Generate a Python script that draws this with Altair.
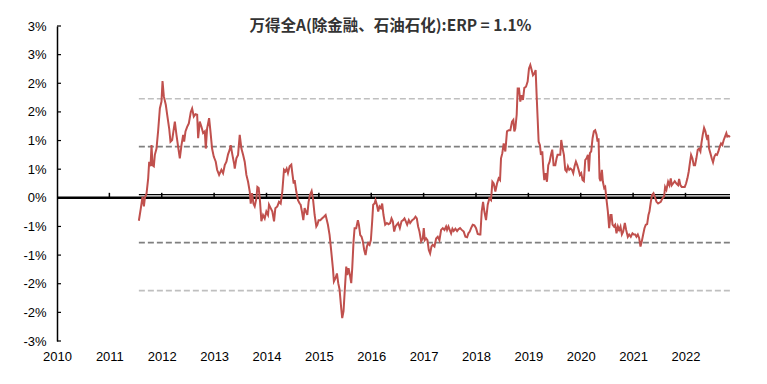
import altair as alt
import pandas as pd

# ---- data ----
years = [
    2011.563, 2011.601, 2011.633, 2011.659, 2011.678, 2011.710, 2011.741, 2011.760, 2011.786, 2011.805,
    2011.824, 2011.849, 2011.868, 2011.900, 2011.932, 2011.964, 2011.995, 2012.015, 2012.040, 2012.078,
    2012.104, 2012.142, 2012.167, 2012.199, 2012.250, 2012.281, 2012.313, 2012.345, 2012.377, 2012.409,
    2012.428, 2012.453, 2012.485, 2012.517, 2012.555, 2012.580, 2012.612, 2012.644, 2012.676, 2012.695,
    2012.726, 2012.758, 2012.790, 2012.822, 2012.841, 2012.866, 2012.904, 2012.930, 2012.961, 2012.993,
    2013.031, 2013.057, 2013.095, 2013.139, 2013.171, 2013.203, 2013.235, 2013.266, 2013.298, 2013.317,
    2013.349, 2013.381,
    2013.394, 2013.425, 2013.457, 2013.489, 2013.521, 2013.553, 2013.584, 2013.616, 2013.648, 2013.680,
    2013.699, 2013.724, 2013.750, 2013.775, 2013.807, 2013.826, 2013.851, 2013.877, 2013.902, 2013.934,
    2013.966, 2013.997, 2014.029, 2014.048, 2014.080, 2014.112, 2014.144, 2014.169, 2014.207, 2014.239,
    2014.271, 2014.302, 2014.334, 2014.360, 2014.385, 2014.410, 2014.442, 2014.474, 2014.493, 2014.519,
    2014.538, 2014.569, 2014.601, 2014.633, 2014.652, 2014.677, 2014.703, 2014.728, 2014.754, 2014.779,
    2014.804, 2014.830, 2014.862, 2014.887, 2014.919, 2014.951, 2014.970, 2014.995, 2015.027, 2015.059,
    2015.097, 2015.129, 2015.173, 2015.205, 2015.237, 2015.268, 2015.287, 2015.319, 2015.345, 2015.370,
    2015.395, 2015.427, 2015.446, 2015.471,
    2015.497, 2015.523, 2015.542, 2015.567, 2015.593, 2015.618, 2015.637, 2015.662, 2015.682, 2015.713,
    2015.745, 2015.764, 2015.790, 2015.815, 2015.840, 2015.866, 2015.891, 2015.917, 2015.942, 2015.968,
    2015.993, 2016.018, 2016.037, 2016.063, 2016.082, 2016.107, 2016.133, 2016.158, 2016.184, 2016.209,
    2016.234, 2016.266, 2016.298, 2016.330, 2016.362, 2016.387, 2016.412, 2016.438, 2016.463, 2016.489,
    2016.514, 2016.546, 2016.578, 2016.609, 2016.635, 2016.660, 2016.686, 2016.717, 2016.743, 2016.781,
    2016.813, 2016.845, 2016.870, 2016.895, 2016.921, 2016.953, 2016.984, 2017.003, 2017.022, 2017.048,
    2017.073, 2017.099, 2017.124, 2017.150, 2017.175, 2017.207, 2017.239, 2017.270, 2017.302, 2017.334,
    2017.366, 2017.397,
    2017.429, 2017.448, 2017.474, 2017.499, 2017.525, 2017.550, 2017.575, 2017.607, 2017.639, 2017.664,
    2017.696, 2017.728, 2017.766, 2017.798, 2017.830, 2017.855, 2017.881, 2017.906, 2017.938, 2017.969,
    2018.001, 2018.033, 2018.065, 2018.084, 2018.109, 2018.135, 2018.160, 2018.192, 2018.224, 2018.255,
    2018.287, 2018.313, 2018.338, 2018.370, 2018.402, 2018.433, 2018.459, 2018.478, 2018.503, 2018.529,
    2018.560, 2018.592, 2018.624, 2018.656, 2018.688, 2018.713, 2018.732, 2018.751, 2018.777, 2018.796,
    2018.821, 2018.846, 2018.872, 2018.897, 2018.923, 2018.955, 2018.986, 2019.012, 2019.037, 2019.063,
    2019.088, 2019.113, 2019.139, 2019.158, 2019.177, 2019.196, 2019.221, 2019.240, 2019.266, 2019.285,
    2019.304, 2019.329, 2019.355, 2019.380, 2019.406, 2019.431, 2019.456, 2019.482,
    2019.514, 2019.539, 2019.558, 2019.590, 2019.609, 2019.628, 2019.654, 2019.679, 2019.704, 2019.730,
    2019.755, 2019.781, 2019.806, 2019.832, 2019.857, 2019.882, 2019.908, 2019.933, 2019.959, 2019.984,
    2020.009, 2020.035, 2020.060, 2020.086, 2020.111, 2020.137, 2020.156, 2020.175, 2020.200, 2020.226,
    2020.251, 2020.276, 2020.302, 2020.321, 2020.340, 2020.359, 2020.378, 2020.404, 2020.423, 2020.448,
    2020.467, 2020.493, 2020.518, 2020.543, 2020.569, 2020.588, 2020.607, 2020.632, 2020.658, 2020.683,
    2020.709, 2020.734, 2020.759, 2020.785, 2020.810, 2020.842, 2020.867, 2020.899, 2020.925, 2020.956,
    2020.988, 2021.014, 2021.039, 2021.064, 2021.090, 2021.115, 2021.141, 2021.166, 2021.192, 2021.217,
    2021.242, 2021.268, 2021.293, 2021.312, 2021.338, 2021.363, 2021.389, 2021.414, 2021.446, 2021.477,
    2021.528, 2021.560, 2021.592, 2021.611, 2021.636, 2021.668, 2021.694, 2021.719, 2021.738, 2021.764,
    2021.795, 2021.827, 2021.859, 2021.878, 2021.903, 2021.929, 2021.961, 2021.986, 2022.011, 2022.037,
    2022.062, 2022.088, 2022.107, 2022.132, 2022.158, 2022.183, 2022.208, 2022.234, 2022.259, 2022.285,
    2022.304, 2022.329, 2022.355, 2022.380, 2022.399, 2022.418, 2022.431, 2022.450, 2022.475, 2022.501,
    2022.526, 2022.552, 2022.577, 2022.602, 2022.628, 2022.653, 2022.679, 2022.704, 2022.730, 2022.755,
    2022.780, 2022.799, 2022.825, 2022.850,
]

erp = [
    -0.40, -0.18, 0.02, -0.15, 0.00, 0.08, 0.34, 0.63, 0.55, 0.92,
    0.57, 0.55, 0.75, 0.86, 1.18, 1.56, 1.68, 2.04, 1.77, 1.62,
    1.45, 1.21, 0.98, 1.01, 1.33, 1.10, 0.89, 0.69, 0.92, 1.10,
    0.98, 1.16, 1.24, 1.30, 1.50, 1.56, 1.42, 1.46, 1.45, 1.04,
    1.33, 1.24, 1.13, 1.16, 0.86, 1.21, 1.39, 1.16, 0.86, 0.72,
    0.63, 0.49, 0.40, 0.49, 0.43, 0.57, 0.63, 0.76, 0.84, 0.92,
    0.75, 0.60,
    0.51, 0.69, 0.75, 1.10, 0.86, 0.75, 0.63, 0.40, 0.28, 0.11,
    -0.10, 0.08, -0.10, -0.15, -0.01, 0.19, 0.17, -0.07, -0.41, -0.30,
    -0.36, -0.24, -0.30, -0.12, -0.18, -0.24, -0.41, -0.18, -0.15, -0.07,
    -0.10, 0.11, 0.49, 0.46, 0.51, 0.43, 0.55, 0.58, 0.43, 0.25,
    0.31, 0.11, -0.04, -0.10, -0.12, -0.24, -0.39, -0.18, -0.24, -0.30,
    -0.07, 0.05, 0.12, -0.01, -0.30, -0.50, -0.47, -0.39, -0.39, -0.36,
    -0.33, -0.30, -0.47, -0.65, -0.94, -1.23, -1.46, -1.40, -1.32, -1.49,
    -1.60, -1.93, -2.10, -1.98,
    -1.58, -1.20, -1.35, -1.23, -1.35, -1.49, -1.23, -0.76, -0.53, -0.53,
    -0.39, -0.47, -0.65, -0.68, -0.76, -0.91, -1.00, -0.85, -0.79, -0.82,
    -0.74, -0.41, -0.12, -0.10, -0.04, -0.12, -0.24, -0.15, -0.18, -0.10,
    -0.30, -0.47, -0.44, -0.46, -0.44, -0.36, -0.41, -0.59, -0.50, -0.47,
    -0.44, -0.53, -0.41, -0.39, -0.36, -0.41, -0.47, -0.39, -0.44, -0.39,
    -0.37, -0.33, -0.36, -0.50, -0.59, -0.76, -0.71, -0.53, -0.74, -0.71,
    -0.74, -0.91, -0.97, -0.85, -0.82, -0.85, -0.71, -0.68, -0.74, -0.56,
    -0.53, -0.56,
    -0.50, -0.56, -0.50, -0.56, -0.62, -0.54, -0.58, -0.54, -0.58, -0.55,
    -0.53, -0.56, -0.59, -0.68, -0.69, -0.62, -0.59, -0.53, -0.47, -0.48,
    -0.53, -0.63, -0.64, -0.64, -0.24, -0.07, -0.24, -0.39, -0.12, -0.01,
    -0.04, 0.28, 0.25, 0.11, 0.25, 0.34, 0.31, 0.69, 0.78, 0.95,
    0.81, 1.16, 1.18, 1.18, 1.33, 1.36, 1.16, 1.21, 1.45, 1.91,
    1.91, 1.68, 1.79, 1.71, 1.92, 1.94, 2.03, 2.26, 2.32, 2.23,
    2.14, 2.17, 2.23, 1.79, 1.39, 0.98, 0.92, 0.75, 0.81, 0.51,
    0.31, 0.43, 0.28, 0.57, 0.63, 0.75, 0.84, 0.57,
    0.57, 0.69, 0.75, 0.75, 0.75, 1.01, 0.86, 0.75, 0.49, 0.46,
    0.55, 0.49, 0.51, 0.49, 0.43, 0.55, 0.63, 0.57, 0.49, 0.40,
    0.43, 0.31, 0.29, 0.66, 0.69, 0.75, 0.46, 0.78, 0.81, 1.04,
    1.16, 1.18, 1.10, 0.98, 1.04, 0.34, 0.29, 0.49, 0.28, 0.17,
    0.19, -0.04, -0.24, -0.53, -0.30, -0.30, -0.47, -0.50, -0.47, -0.62,
    -0.50, -0.56, -0.50, -0.64, -0.59, -0.44, -0.56, -0.68, -0.64, -0.68,
    -0.62, -0.64, -0.64, -0.68, -0.64, -0.70, -0.85, -0.76, -0.64, -0.53,
    -0.47, -0.46, -0.30, -0.24, -0.07, 0.05, 0.08, 0.02, -0.07, -0.10,
    -0.07, -0.01, 0.02, 0.19, 0.14, 0.28, 0.22, 0.34, 0.22, 0.25,
    0.29, 0.25, 0.22, 0.33, 0.22, 0.19, 0.19, 0.19, 0.25, 0.34,
    0.46, 0.63, 0.75, 0.69, 0.57, 0.57, 0.69, 0.84, 0.86, 0.81,
    0.95, 1.10, 1.22, 1.16, 1.07, 1.01, 1.10, 0.86, 0.78, 0.69,
    0.62, 0.72, 0.76, 0.75, 0.81, 0.89, 0.95, 0.92, 1.01, 1.07,
    1.13, 1.07, 1.08, 1.06,
]

y_ticks = [-2.5, -2.0, -1.5, -1.0, -0.5, 0.0, 0.5, 1.0, 1.5, 2.0, 2.5, 3.0]
x_years = [2010, 2011, 2012, 2013, 2014, 2015, 2016, 2017, 2018, 2019, 2020, 2021, 2022]
x_end = 2022.85
mean_level = [0.056]
inner_levels = [0.894, -0.782]   # mean +/- 1 sd
outer_levels = [1.731, -1.620]   # mean +/- 2 sd
zero_level = [0.0]

title_text = "万得全A(除金融、石油石化):ERP = 1.1%"

# ---- chart ----
df = pd.DataFrame({"year": years, "erp": erp})
start, end = years[0], years[-1]

W, H = 673, 315
xscale = alt.Scale(domain=[x_years[0], x_end], nice=False, zero=False)
yscale = alt.Scale(domain=[y_ticks[0], y_ticks[-1]], nice=False, zero=False)

label_font = "Liberation Sans"

x_axis = alt.Axis(
    values=x_years, format="d", domain=False, ticks=False, grid=False, title=None,
    labelPadding=9, labelFlush=False, labelFont=label_font, labelFontSize=13,
    labelColor="#000000",
)
y_axis = alt.Axis(
    values=y_ticks, grid=False, title=None, ticks=False,
    domain=True, domainColor="#000000", domainWidth=1.5,
    labelExpr="(datum.value < 0 ? '-' + round(-datum.value) : '' + round(datum.value)) + '%'",
    labelPadding=11, labelFlush=False, labelFont=label_font, labelFontSize=13,
    labelColor="#000000",
)

X = lambda f: alt.X(f, scale=xscale, axis=x_axis)
Y = lambda f: alt.Y(f, scale=yscale, axis=y_axis)


def level_frame(levels, a, b):
    return pd.DataFrame({"level": levels, "x0": [a] * len(levels), "x1": [b] * len(levels)})


outer = alt.Chart(level_frame(outer_levels, start, end)).mark_rule(
    color="#BFBFBF", strokeWidth=1.6, strokeDash=[6, 3]
).encode(x=X("x0:Q"), x2="x1:Q", y=Y("level:Q"))

inner = alt.Chart(level_frame(inner_levels, start, end)).mark_rule(
    color="#7F7F7F", strokeWidth=1.6, strokeDash=[6, 3]
).encode(x=X("x0:Q"), x2="x1:Q", y=Y("level:Q"))

mean = alt.Chart(level_frame(mean_level, start, end)).mark_rule(
    color="#000000", strokeWidth=1.2
).encode(x=X("x0:Q"), x2="x1:Q", y=Y("level:Q"))

zero = alt.Chart(level_frame(zero_level, x_years[0], x_end)).mark_rule(
    color="#000000", strokeWidth=2.5
).encode(x=X("x0:Q"), x2="x1:Q", y=Y("level:Q"))

year_ticks = alt.Chart(
    pd.DataFrame({"yr": x_years[1:], "z": [0.0] * (len(x_years) - 1)})
).mark_rule(color="#000000", strokeWidth=1.5, y2Offset=-5).encode(
    x=X("yr:Q"), y=Y("z:Q"), y2="z:Q"
)

yticks = alt.Chart(pd.DataFrame({"v": y_ticks})).mark_rule(
    color="#000000", strokeWidth=1.2
).encode(y=Y("v:Q"), x=alt.value(0), x2=alt.value(4))

line = alt.Chart(df).mark_line(color="#C0504D", strokeWidth=2).encode(
    x=X("year:Q"), y=Y("erp:Q")
)

chart = alt.layer(outer, inner, mean, zero, year_ticks, yticks, line).properties(
    width=W, height=H,
    autosize=alt.AutoSizeParams(type="none"),
    padding={"left": 49, "top": 18, "right": 29, "bottom": 30},
    title=alt.TitleParams(
        title_text, font="Noto Sans CJK SC", fontSize=15.5, fontWeight="bold",
        color="#333333", anchor="middle", offset=-14, dx=-3,
    ),
).configure_view(stroke=None)

chart.save("out.html", embed_options={"renderer": "svg", "actions": False})
